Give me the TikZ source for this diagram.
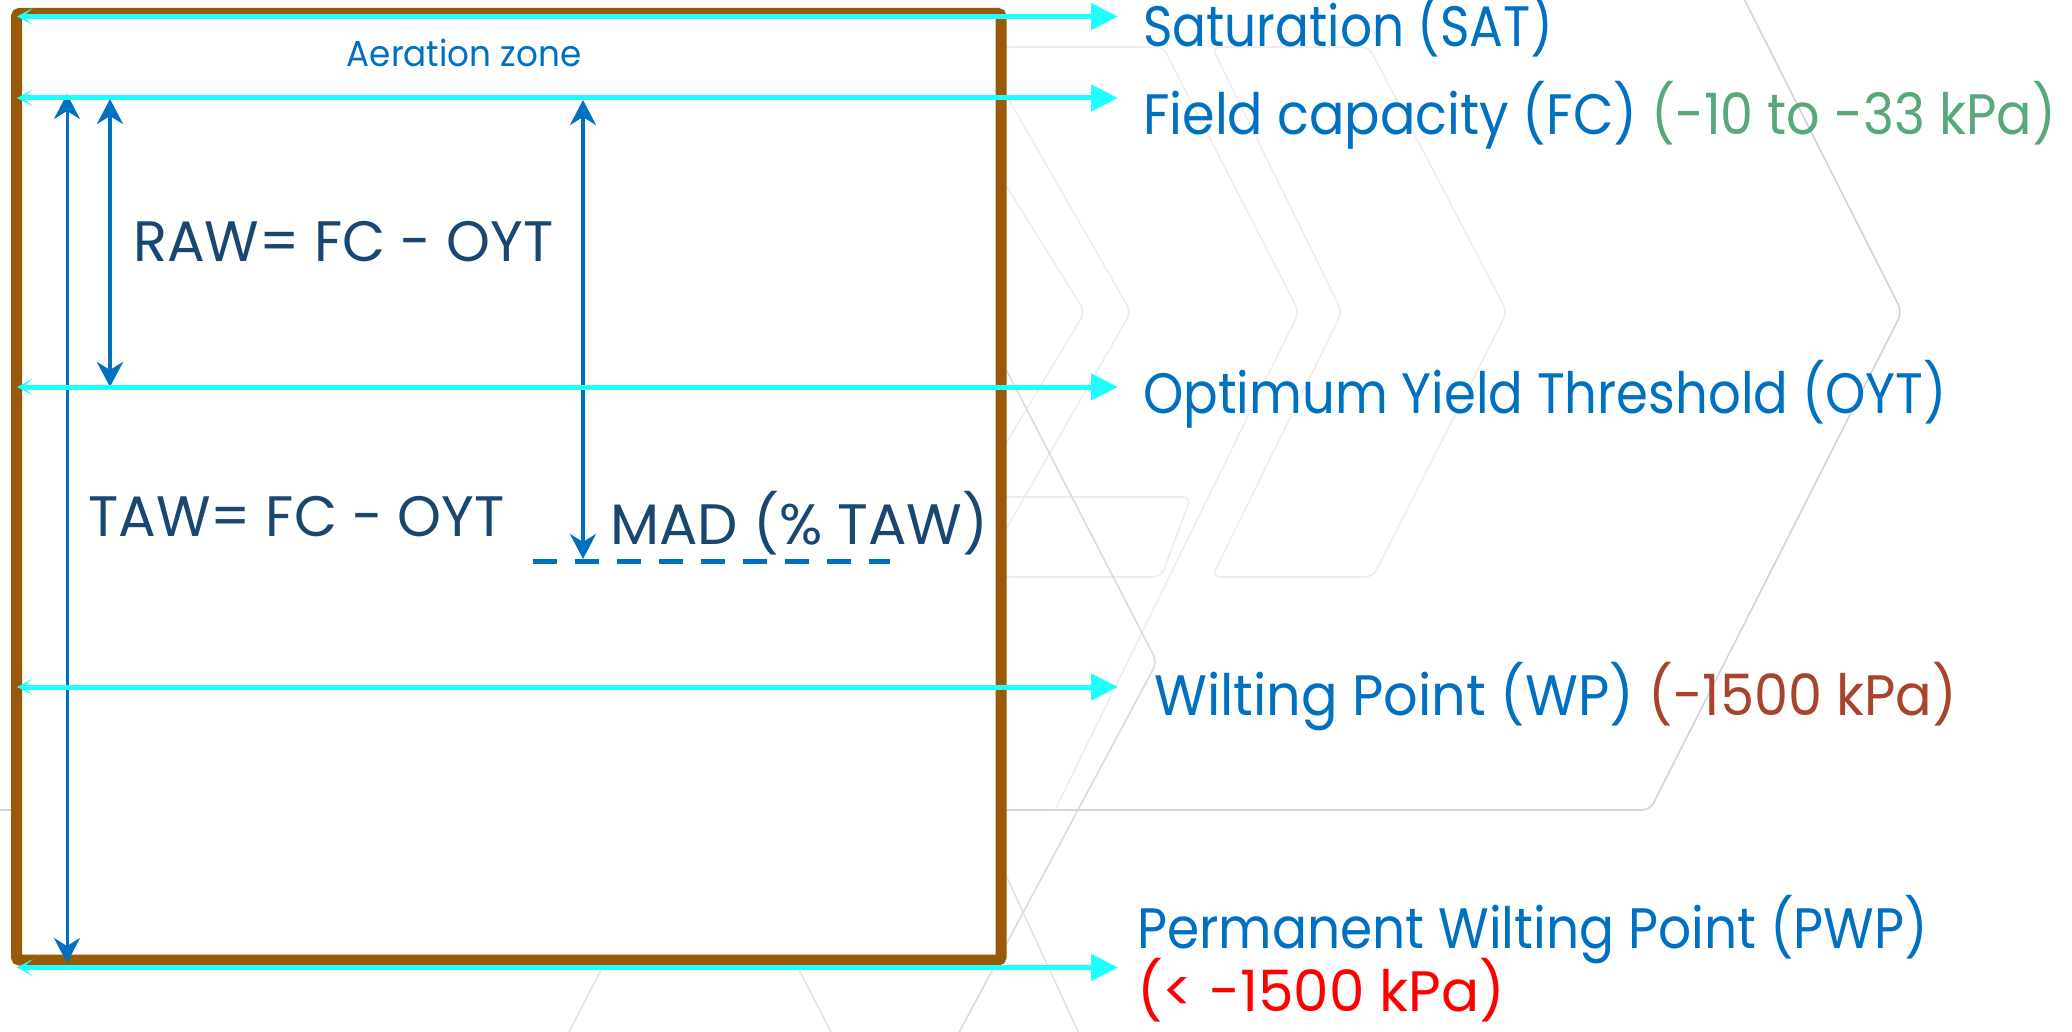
\documentclass[tikz,border=0pt]{standalone}
\usepackage{fontspec}
\setmainfont{Poppins}[FakeStretch=0.9]
\newfontfamily\fsSat{Poppins}[FakeStretch=0.88]
\newfontfamily\fsFc{Poppins}[FakeStretch=0.92]
\newfontfamily\fsOyt{Poppins}[FakeStretch=0.90]
\newfontfamily\fsWp{Poppins}[FakeStretch=0.95]
\newfontfamily\fsPwp{Poppins}[FakeStretch=0.91]
\newfontfamily\fsPwpv{Poppins}[FakeStretch=0.99]
\newfontfamily\fsEq{Poppins}[FakeStretch=0.98]
\newfontfamily\fsMad{Poppins}[FakeStretch=1.0]
\newfontfamily\fsAer{Poppins}[FakeStretch=0.95]
\usetikzlibrary{arrows.meta}
\definecolor{cyanL}{HTML}{1FFFFF}
\definecolor{blueT}{HTML}{0070C0}
\definecolor{navyT}{HTML}{1A4771}
\definecolor{greenT}{HTML}{57A97B}
\definecolor{rustT}{HTML}{A8432C}
\definecolor{redT}{HTML}{FF0000}
\definecolor{soilB}{HTML}{985A07}
\newcommand\fBig{\fontsize{57}{60}\selectfont}
\newcommand\fSmall{\fontsize{36}{40}\selectfont}
\begin{document}
\begin{tikzpicture}[x=1pt,y=-1pt,
  bgline/.style={draw=black!17, line width=1.6pt, rounded corners=8pt},
  bglight/.style={draw=black!7, line width=1.6pt, rounded corners=8pt},
  soilbox/.style={draw=soilB, fill=white, line width=11pt, rounded corners=3pt},
  level/.style={draw=cyanL, line width=5pt, {Stealth[length=16pt,width=17pt,inset=10pt]}-{Triangle[length=27pt,width=26pt]}},
  dimarrow/.style={draw=blueT, line width=4pt, {Stealth[length=25pt,width=26pt,inset=8pt]}-{Stealth[length=25pt,width=26pt,inset=8pt]}},
  madline/.style={draw=blueT, line width=5pt, dash pattern=on 24pt off 18pt},
  lab/.style={anchor=base west, inner sep=0pt, font=\fBig, text=blueT},
  eqlab/.style={anchor=base west, inner sep=0pt, font=\fBig\fsEq, text=navyT}]
\useasboundingbox (0,0) rectangle (2072,1032);
% faint background chevrons
\draw[bglight] (1000,47) -- (1163,47) -- (1299,312) -- (1055,810);
\draw[bglight] (1212,47) -- (1369,47) -- (1507,312) -- (1373,577) -- (1212,577) -- (1342,312) -- cycle;
\draw[bglight] (990,160) -- (1085,312) -- (990,470);
\draw[bglight] (990,67) -- (1131,312) -- (990,557);
\draw[bglight] (990,497) -- (1191,497) -- (1161,577) -- (990,577);
\draw[bgline] (1742,-5) -- (1902,312) -- (1650,810) -- (-5,810);
\draw[bgline, draw=black!14] (960,280) -- (1157,662) -- (955,1040);
\draw[bgline, draw=black!11] (565,1040) -- (700,776) -- (835,1040);
\draw[bgline, draw=black!11] (985,830) -- (1082,1040);
% soil box
\draw[soilbox] (16.5,13.5) rectangle (1001,960);
% dimension arrows
\coordinate (tawT) at (67,94);  \coordinate (tawB) at (67,963);
\coordinate (rawT) at (110,99); \coordinate (rawB) at (110,387);
\coordinate (madT) at (583,100); \coordinate (madB) at (583,559);
\coordinate (dashL) at (533,561); \coordinate (dashR) at (890,561);
\draw[dimarrow, line width=3pt] (tawT) -- (tawB);
\draw[dimarrow] (rawT) -- (rawB);
\draw[dimarrow] (madT) -- (madB);
\draw[madline] (dashL) -- (dashR);
% water levels
\coordinate (satL) at (17,16.5);  \coordinate (satR) at (1118,16.5);
\coordinate (fcL) at (17,98);     \coordinate (fcR) at (1118,98);
\coordinate (oytL) at (17,387);   \coordinate (oytR) at (1118,387);
\coordinate (wpL) at (17,687);    \coordinate (wpR) at (1118,687);
\coordinate (pwpL) at (17,967.5); \coordinate (pwpR) at (1118,967.5);
\draw[level] (satL) -- (satR);
\draw[level] (fcL) -- (fcR);
\draw[level] (oytL) -- (oytR);
\draw[level] (wpL) -- (wpR);
\draw[level] (pwpL) -- (pwpR);
% labels
\node[lab, font=\fBig\fsSat] (sat) at (1143,47) {Saturation (SAT)};
\node[lab, font=\fBig\fsFc] (fc) at (1143,135) {Field capacity (FC) \textcolor{greenT}{(-10 to -33 kPa)}};
\node[lab, font=\fBig\fsOyt] (oyt) at (1143,413) {Optimum Yield Threshold (OYT)};
\node[lab, font=\fBig\fsWp] (wp) at (1154,715) {Wilting Point (WP) \textcolor{rustT}{(-1500 kPa)}};
\node[lab, font=\fBig\fsPwp] (pwp) at (1137,948) {Permanent Wilting Point (PWP)};
\node[lab, font=\fBig\fsPwpv, text=redT] (pwpv) at (1137,1011) {(< -1500 kPa)};
\node[anchor=base, inner sep=0pt, font=\fSmall\fsAer, text=blueT] (aer) at (464,67) {Aeration zone};
\node[eqlab] (raw) at (133,262) {RAW= FC - OYT};
\node[eqlab] (taw) at (88,536) {TAW= FC - OYT};
\node[eqlab, font=\fBig\fsMad] (mad) at (610,544) {MAD (\% TAW)};
\end{tikzpicture}
\end{document}
